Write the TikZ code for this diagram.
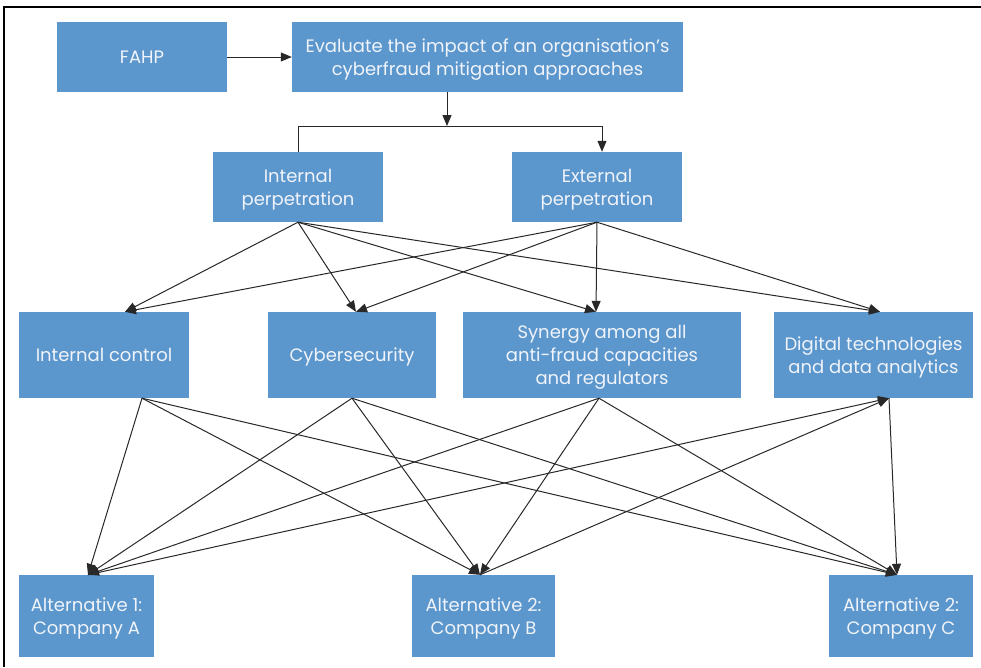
\documentclass[tikz,border=0pt]{standalone}
\usepackage{fontspec}
\setmainfont{Poppins}
\usetikzlibrary{arrows.meta,calc}
\definecolor{boxblue}{RGB}{91,150,204}
\definecolor{boxtext}{RGB}{240,244,250}
\definecolor{lin}{RGB}{40,40,40}
\tikzset{
  box/.style={fill=boxblue,text=boxtext,inner sep=0pt,align=center,text depth=0pt,
    font=\fontsize{18}{23}\selectfont},
  conn/.style={draw=lin,line width=1pt},
  arr/.style={conn,-{Triangle[length=11pt,width=9pt]}}
}
\begin{document}
\begin{tikzpicture}[x=1pt,y=-1pt]
\useasboundingbox (0,0) rectangle (981,667);
\draw[line width=1.6pt] (4,667) -- (4,7) -- (981,7);
% top
\node[box,minimum width=170,minimum height=70] (fahp) at (142,57) {FAHP};
\node[box,minimum width=391,minimum height=70] (eval) at (487.5,57) {Evaluate the impact of an organisation’s\\cyberfraud mitigation approaches};
\node[box,minimum width=170,minimum height=70] (ip) at (298,187) {Internal\\perpetration};
\node[box,minimum width=170,minimum height=70] (ep) at (597,187) {External\\perpetration};
% middle
\node[box,minimum width=170,minimum height=86] (ic) at (104,355) {Internal control};
\node[box,minimum width=168,minimum height=86] (cs) at (352,355) {Cybersecurity};
\node[box,minimum width=278,minimum height=86] (syn) at (602,355) {Synergy among all\\anti-fraud capacities\\and regulators};
\node[box,minimum width=199,minimum height=86] (dig) at (873.5,355) {Digital technologies\\and data analytics};
% bottom
\node[box,minimum width=135,minimum height=82] (a) at (86.5,616) {Alternative 1:\\Company A};
\node[box,minimum width=143,minimum height=82] (b) at (483.5,616) {Alternative 2:\\Company B};
\node[box,minimum width=144,minimum height=82] (c) at (901,616) {Alternative 2:\\Company C};
% anchor points
\coordinate (evs) at ($(eval.south)+(-40.5,0)$);
\coordinate (split) at (447,126);
\coordinate (sl) at (298,126);
\coordinate (sr) at (602,126);
\coordinate (ept) at ($(ep.north)+(5,0)$);
\coordinate (ict) at ($(ic.north)+(21,0)$);
\coordinate (cst) at ($(cs.north)+(4,0)$);
\coordinate (synt) at ($(syn.north)+(-6,0)$);
\coordinate (digt) at ($(dig.north)+(6.5,0)$);
\coordinate (ics) at ($(ic.south)+(38,0)$);
\coordinate (css) at (cs.south);
\coordinate (syns) at ($(syn.south)+(-3,0)$);
\coordinate (digs) at ($(dig.south)+(15.5,0)$);
\coordinate (at) at ($(a.north)+(1.5,0)$);
\coordinate (bt) at ($(b.north)+(-3.5,0)$);
\coordinate (ct) at ($(c.north)+(-4,0)$);
% connectors
\draw[arr] (fahp) -- (eval);
\draw[arr] (evs) -- (split);
\draw[conn] (ip.north) -- (sl) -- (sr) -- ($(sr)+(0,3)$);
\draw[arr] (sr) -- (ept);
\foreach \s in {ip.south,ep.south}{
  \foreach \t in {ict,cst,synt,digt}{
    \draw[arr] (\s) -- (\t);
  }
}
\foreach \s in {ics,css,syns}{
  \foreach \t in {at,bt,ct}{
    \draw[arr] (\s) -- (\t);
  }
}
\draw[arr] (at) -- (digs);
\draw[arr] (bt) -- (digs);
\draw[arr] (digs) -- (ct);
\end{tikzpicture}
\end{document}
